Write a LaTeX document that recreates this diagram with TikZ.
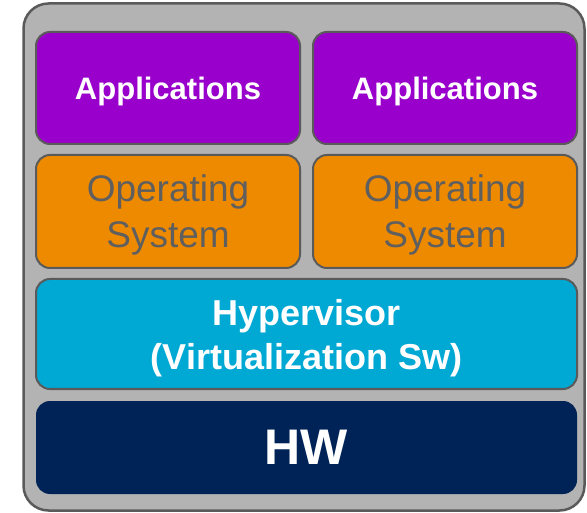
\documentclass[tikz,border=0pt]{standalone}
\usepackage{fontspec}
\setmainfont{Liberation Sans}
\definecolor{rimgray}{HTML}{5A5A5A}
\definecolor{shellgray}{HTML}{B3B3B3}
\definecolor{apppurple}{HTML}{9900CC}
\definecolor{osorange}{HTML}{EE8A00}
\definecolor{ostext}{HTML}{5F5F5F}
\definecolor{hvblue}{HTML}{00A8D4}
\definecolor{hwnavy}{HTML}{002357}

\begin{document}
\begin{tikzpicture}[x=1pt,y=-1pt]
    \tikzset{layer/.style={rounded corners=14pt, draw=rimgray, line width=2pt,
                           inner sep=0pt, align=center, anchor=center, text depth=0pt}}
    \tikzset{appbox/.style={layer, fill=apppurple, text=white, minimum width=264pt,
                            minimum height=112pt, font=\fontsize{31}{37}\selectfont\bfseries}}
    \tikzset{osbox/.style={layer, fill=osorange, text=ostext, minimum width=264pt,
                           minimum height=113pt, font=\fontsize{37}{46}\selectfont}}
    \tikzset{hvbox/.style={layer, fill=hvblue, text=white, minimum width=541pt,
                           minimum height=110pt, font=\fontsize{36}{44}\selectfont\bfseries}}
    \tikzset{hwbox/.style={layer, draw=none, fill=hwnavy, text=white, minimum width=541pt,
                           minimum height=93pt, font=\fontsize{50}{60}\selectfont\bfseries}}
    \useasboundingbox (0,0) rectangle (587,513);
    % outer host
    \node[draw=rimgray, line width=2.5pt, fill=shellgray, rounded corners=25pt,
          minimum width=561pt, minimum height=507pt] (host) at (304,257) {};
    % guests
    \node[appbox] (appL) at (168,88) {Applications};
    \node[appbox] (appR) at (445,88) {Applications};
    \node[osbox] (osL) at (168,211.5) {Operating\\System};
    \node[osbox] (osR) at (445,211.5) {Operating\\System};
    % host layers
    \node[hvbox] (hyper) at (306.5,334) {Hypervisor\\(Virtualization Sw)};
    \node[hwbox] (hw) at (306.5,447.5) {HW};
\end{tikzpicture}
\end{document}
